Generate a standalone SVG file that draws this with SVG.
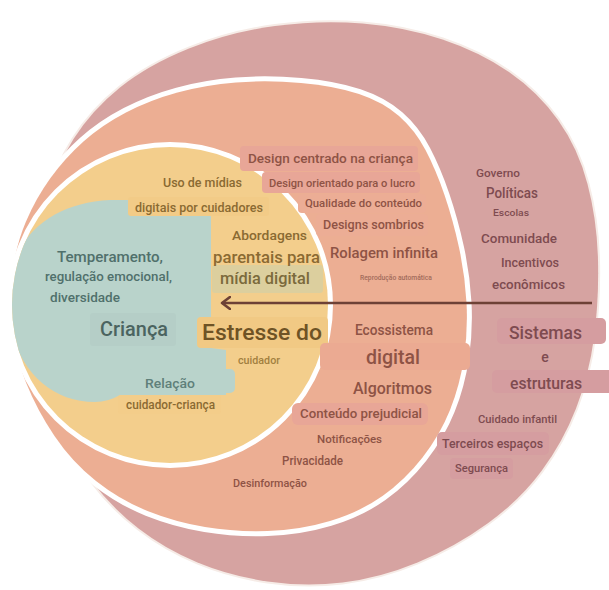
<svg xmlns="http://www.w3.org/2000/svg" width="609" height="590" viewBox="0 0 609 590">
<defs>
<style>
text{font-family:Roboto,"Liberation Sans",Arial,sans-serif;font-weight:500}
.tm{fill:#7E4B50}
.to{fill:#8E5345}
.ty{fill:#8A6A32}
.tt{fill:#50706B}
.ring{paint-order:stroke fill;stroke:#FFFFFF;stroke-width:10}
.bo{fill:#E8A697}
.bm{fill:#D59DA0}
</style>
<clipPath id="yc"><circle cx="170" cy="305" r="158"/></clipPath>
<marker id="ah" markerWidth="12" markerHeight="14" refX="9" refY="7" orient="auto" markerUnits="userSpaceOnUse">
<path d="M1,1 L9,7 L1,13" fill="none" stroke="#6D4136" stroke-width="2.6" stroke-linecap="round" stroke-linejoin="round"/>
</marker>
</defs>
<rect width="609" height="590" fill="#FFFFFF"/>

<g id="sistemas-estruturas">
<path d="M 362.5,23.5 Q 405,27 442.5,39.5 Q 480,52 509,72 Q 538,92 558,120 Q 578,148 587.5,184 Q 597,220 598,260 Q 599,300 594,337.5 Q 589,375 576,408.5 Q 563,442 541.5,471 Q 520,500 487.5,523.5 Q 455,547 417.5,562.5 Q 380,578 342.5,582.5 Q 305,587 267.5,581.5 Q 230,576 197.5,562.5 Q 165,549 138.5,528.5 Q 112,508 92,481.5 Q 72,455 60,422.5 Q 48,390 43,350 Q 38,310 40,272.5 Q 42,235 48.5,201.5 Q 55,168 73.5,139 Q 92,110 120,87.5 Q 148,65 189,48.5 Q 230,32 275,26 Q 320,20 362.5,23.5 Z" fill="#D6A3A1" stroke="#F6ECE7" stroke-width="4" paint-order="stroke fill"/>
</g>

<g id="ecossistema-digital">
<path class="ring" d="M 301,83 Q 335,86 359,94 Q 383,102 399,116 Q 415,130 425.5,150 Q 436,170 444.5,195 Q 453,220 459,247.5 Q 465,275 466.5,302.5 Q 468,330 464,357.5 Q 460,385 450,410 Q 440,435 422.5,457.5 Q 405,480 382.5,496 Q 360,512 330,521 Q 300,530 267.5,531 Q 235,532 205,527 Q 175,522 147.5,511 Q 120,500 96,481 Q 72,462 54.5,436 Q 37,410 26,382.5 Q 15,355 12,327.5 Q 9,300 12.5,272.5 Q 16,245 26,221.5 Q 36,198 50.5,178 Q 65,158 83.5,141.5 Q 102,125 126,112.5 Q 150,100 177.5,92.5 Q 205,85 236,82.5 Q 267,80 301,83 Z" fill="#ECAE93"/>
</g>

<g id="estresse-cuidador">
<circle class="ring" cx="170" cy="305" r="158" fill="#F3CE8C"/>
</g>

<g id="crianca">
<path clip-path="url(#yc)" d="M 8,300 C 8,238 50,203 110,200 L 201,200 Q 211,200 211,210 L 211,348 L 226,350 L 226,395 L 120,395 Q 108,402 95,402 C 45,402 8,360 8,300 Z" fill="#B9D3CB"/>
</g>

<g id="labels-boxes">
<rect x="128" y="197" width="141" height="19" rx="3" fill="#F2CB87"/>
<rect x="212" y="265" width="111" height="28" rx="3" fill="#DCCF9E"/>
<rect x="197" y="317" width="131" height="31" rx="4" fill="#F1C984"/>
<rect x="90" y="313" width="86" height="33" rx="3" fill="#B5CEC7"/>
<rect x="128" y="369" width="107" height="24" rx="5" fill="#B9D3CB"/>
<rect x="118" y="395" width="103" height="19" rx="3" fill="#F3CD8A"/>
<rect class="bo" x="240" y="146" width="178" height="25" rx="4"/>
<rect class="bo" x="262" y="172" width="158" height="21" rx="4"/>
<rect x="298" y="194" width="128" height="19" rx="4" fill="#ECAD95"/>
<rect x="316" y="214" width="112" height="22" rx="4" fill="#ECAD95"/>
<rect x="320" y="343" width="150" height="27" rx="5" fill="#EBAA92"/>
<rect class="bo" x="292" y="403" width="136" height="22" rx="6"/>
<rect class="bm" x="497" y="318" width="109" height="26" rx="5"/>
<rect class="bm" x="492" y="370" width="125" height="23" rx="5"/>
<rect class="bm" x="437" y="432" width="112" height="23" rx="5"/>
<rect class="bm" x="450" y="458" width="63" height="21" rx="4"/>
</g>

<g id="texts-crianca">
<text class="tt" x="57" y="262" font-size="15" textLength="106" lengthAdjust="spacingAndGlyphs">Temperamento,</text>
<text class="tt" x="45" y="280.5" font-size="13" textLength="127" lengthAdjust="spacingAndGlyphs">regulação emocional,</text>
<text class="tt" x="50" y="301.5" font-size="13.5" textLength="70" lengthAdjust="spacingAndGlyphs">diversidade</text>
<text x="100" y="336" font-size="20" fill="#4B6460" textLength="68" lengthAdjust="spacingAndGlyphs">Criança</text>
<text x="145" y="387.5" font-size="13.5" fill="#5F807A" textLength="50" lengthAdjust="spacingAndGlyphs">Relação</text>
</g>

<g id="texts-cuidador">
<text class="ty" x="163" y="187" font-size="12" textLength="79" lengthAdjust="spacingAndGlyphs">Uso de mídias</text>
<text class="ty" x="135" y="211.5" font-size="12.5" textLength="128" lengthAdjust="spacingAndGlyphs">digitais por cuidadores</text>
<text class="ty" x="232" y="240" font-size="13.5" textLength="75" lengthAdjust="spacingAndGlyphs">Abordagens</text>
<text class="ty" x="213" y="262.5" font-size="16" textLength="107" lengthAdjust="spacingAndGlyphs">parentais para</text>
<text x="220" y="284" font-size="16.5" fill="#7B6A3C" textLength="90" lengthAdjust="spacingAndGlyphs">mídia digital</text>
<text x="202" y="339.5" font-size="22" fill="#6E5325" textLength="120" lengthAdjust="spacingAndGlyphs">Estresse do</text>
<text x="238" y="363.5" font-size="10" fill="#A2803F" textLength="42" lengthAdjust="spacingAndGlyphs">cuidador</text>
<text class="ty" x="126" y="409" font-size="12" textLength="89" lengthAdjust="spacingAndGlyphs">cuidador-criança</text>
</g>

<g id="texts-ecossistema">
<text class="to" x="248" y="162.5" font-size="13.5" textLength="165" lengthAdjust="spacingAndGlyphs">Design centrado na criança</text>
<text class="to" x="269" y="187" font-size="11" textLength="146" lengthAdjust="spacingAndGlyphs">Design orientado para o lucro</text>
<text class="to" x="305" y="207" font-size="11" textLength="117" lengthAdjust="spacingAndGlyphs">Qualidade do conteúdo</text>
<text class="to" x="323" y="229" font-size="12.5" textLength="101" lengthAdjust="spacingAndGlyphs">Designs sombrios</text>
<text class="to" x="330" y="258" font-size="15" textLength="108" lengthAdjust="spacingAndGlyphs">Rolagem infinita</text>
<text x="360" y="279.5" font-size="6.8" fill="#A26B5B" textLength="72" lengthAdjust="spacingAndGlyphs">Reprodução automática</text>
<text class="to" x="355" y="335" font-size="14" textLength="78" lengthAdjust="spacingAndGlyphs">Ecossistema</text>
<text class="to" x="366" y="364" font-size="20.5" textLength="54" lengthAdjust="spacingAndGlyphs">digital</text>
<text class="to" x="353" y="394" font-size="16.5" textLength="79" lengthAdjust="spacingAndGlyphs">Algoritmos</text>
<text class="to" x="300" y="417.5" font-size="13" textLength="122" lengthAdjust="spacingAndGlyphs">Conteúdo prejudicial</text>
<text class="to" x="317" y="443" font-size="11" textLength="65" lengthAdjust="spacingAndGlyphs">Notificações</text>
<text class="to" x="282" y="465" font-size="12" textLength="61" lengthAdjust="spacingAndGlyphs">Privacidade</text>
<text class="to" x="233" y="486.5" font-size="10.5" textLength="74" lengthAdjust="spacingAndGlyphs">Desinformação</text>
</g>

<g id="texts-sistemas">
<text class="tm" x="476" y="177" font-size="11" textLength="44" lengthAdjust="spacingAndGlyphs">Governo</text>
<text class="tm" x="486" y="198" font-size="14" textLength="52" lengthAdjust="spacingAndGlyphs">Políticas</text>
<text class="tm" x="493" y="216" font-size="9.5" textLength="36" lengthAdjust="spacingAndGlyphs">Escolas</text>
<text class="tm" x="481" y="243" font-size="13.5" textLength="76" lengthAdjust="spacingAndGlyphs">Comunidade</text>
<text class="tm" x="501" y="266.5" font-size="12.5" textLength="58" lengthAdjust="spacingAndGlyphs">Incentivos</text>
<text class="tm" x="492" y="289" font-size="13.5" textLength="73" lengthAdjust="spacingAndGlyphs">econômicos</text>
<text class="tm" x="509" y="338.5" font-size="18" textLength="73" lengthAdjust="spacingAndGlyphs">Sistemas</text>
<text class="tm" x="545" y="362" font-size="14" text-anchor="middle">e</text>
<text class="tm" x="510" y="388.5" font-size="16" textLength="72" lengthAdjust="spacingAndGlyphs">estruturas</text>
<text class="tm" x="478" y="423" font-size="11" textLength="79" lengthAdjust="spacingAndGlyphs">Cuidado infantil</text>
<text class="tm" x="442" y="447.5" font-size="12.5" textLength="101" lengthAdjust="spacingAndGlyphs">Terceiros espaços</text>
<text class="tm" x="455" y="472" font-size="11" textLength="53" lengthAdjust="spacingAndGlyphs">Segurança</text>
</g>

<g id="connectors">
<line x1="592" y1="303" x2="222" y2="303" stroke="#6D4136" stroke-width="2.6" marker-end="url(#ah)"/>
</g>
</svg>
